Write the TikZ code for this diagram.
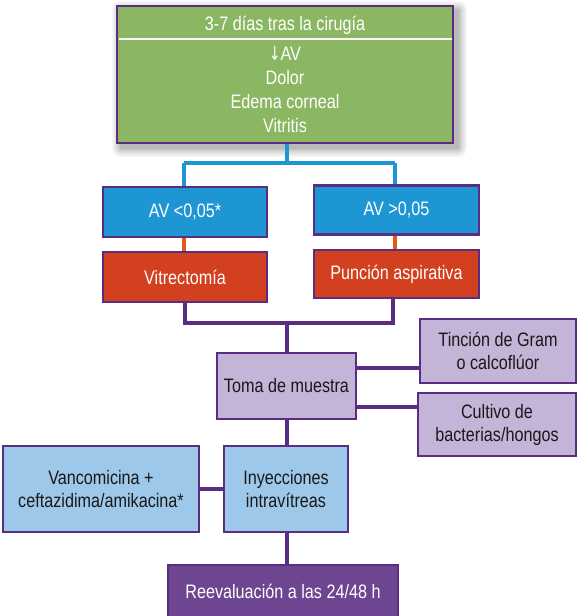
\documentclass[tikz,border=0pt]{standalone}
\usepackage{fontspec}
\setmainfont{Liberation Sans}[FakeStretch=0.83]
\newfontfamily\arrowfont{DejaVu Sans}[FakeStretch=0.7]
\definecolor{bord}{HTML}{5A2D82}
\definecolor{grn}{HTML}{8BB662}
\definecolor{blu}{HTML}{1F96D4}
\definecolor{redb}{HTML}{D2401F}
\definecolor{lpur}{HTML}{C3B4D8}
\definecolor{lblu}{HTML}{9DC8EA}
\definecolor{dpur}{HTML}{6E4590}
\definecolor{orng}{HTML}{E05A1E}
\tikzset{
  txt/.style={font=\fontsize{19.5}{23}\selectfont},
  box/.style={draw=bord, line width=2.6pt, rectangle, align=center, inner sep=2pt, txt},
  wbox/.style={box, text=white},
  kbox/.style={box, text=black!90},
  conn/.style={draw=bord, line width=4.5pt},
  bconn/.style={draw=blu, line width=4pt},
  oconn/.style={draw=orng, line width=4pt},
}
\begin{document}
\begin{tikzpicture}[x=1pt,y=-1pt]
\useasboundingbox (0,0) rectangle (576,616);
\fill[white] (0,0) rectangle (576,616);
% shadow for top box
\foreach \d/\o in {9/0.04,7/0.05,5/0.06,3/0.07,1/0.08}{
  \fill[black, opacity=\o, rounded corners=\d pt] (117+4-\d,6+4-\d) rectangle (453+5+\d,143+5+\d);
}
% top box
\node[box, fill=grn, minimum width=336pt, minimum height=137pt] (top) at (285,74.5) {};
\draw[white, line width=1.2pt] (118.5,39) -- (451.5,39);
\node[text=white, txt] (t1) at (285,25.5) {3-7 días tras la cirugía};
\node[text=white, align=center, font=\fontsize{19.5}{24}\selectfont, anchor=north] (t2) at (285,43) {{\arrowfont ↓}AV\\Dolor\\Edema corneal\\Vitritis};
% second level
\node[wbox, fill=blu, minimum width=164pt, minimum height=50pt] (bl) at (185,212) {AV <0,05*};
\node[wbox, fill=blu, minimum width=165pt, minimum height=49pt] (br) at (396.5,210) {AV >0,05};
\node[wbox, fill=redb, minimum width=164pt, minimum height=50pt] (rl) at (185,277) {Vitrectomía};
\node[wbox, fill=redb, minimum width=165pt, minimum height=48pt] (rr) at (396.5,274) {Punción aspirativa};
% middle
\node[kbox, fill=lpur, minimum width=139pt, minimum height=66pt] (toma) at (286.5,386) {Toma de muestra};
\node[kbox, fill=lpur, minimum width=156pt, minimum height=64pt] (gram) at (498,351) {Tinción de Gram\\o calcoflúor};
\node[kbox, fill=lpur, minimum width=158pt, minimum height=63pt] (cult) at (497,424.5) {Cultivo de\\bacterias/hongos};
\node[kbox, fill=lblu, minimum width=124pt, minimum height=86pt] (iny) at (286,489) {Inyecciones\\intravítreas};
\node[kbox, fill=lblu, minimum width=196pt, minimum height=86pt] (vanc) at (101,489) {Vancomicina +\\ceftazidima/amikacina*};
\node[wbox, fill=dpur, minimum width=230pt, minimum height=56pt] (reev) at (283,593) {};
\node[text=white, txt] (reevt) at (283,591) {Reevaluación a las 24/48 h};
% connectors
\coordinate (bj) at (287,163);
\coordinate (pj) at (287,323);
\draw[bconn] (top.south -| bj) -- (bj);
\draw[bconn] (184,163) -- (395,163);
\draw[bconn] (184,163) -- (bl.north -| 184,0);
\draw[bconn] (395,163) -- (br.north -| 395,0);
\draw[oconn] (bl.south -| 184,0) -- (rl.north -| 184,0);
\draw[oconn] (br.south -| 395,0) -- (rr.north -| 395,0);
\draw[conn] (rl.south -| 185,0) -- (185,323) -- (393,323) -- (rr.south -| 393,0);
\draw[conn] (pj) -- (toma.north -| pj);
\draw[conn] (toma.east |- 0,368) -- (gram.west |- 0,368);
\draw[conn] (toma.east |- 0,407) -- (cult.west |- 0,407);
\draw[conn] (toma.south -| pj) -- (iny.north -| pj);
\draw[conn] (vanc.east) -- (iny.west);
\draw[conn] (iny.south -| pj) -- (reev.north -| pj);
\end{tikzpicture}
\end{document}
